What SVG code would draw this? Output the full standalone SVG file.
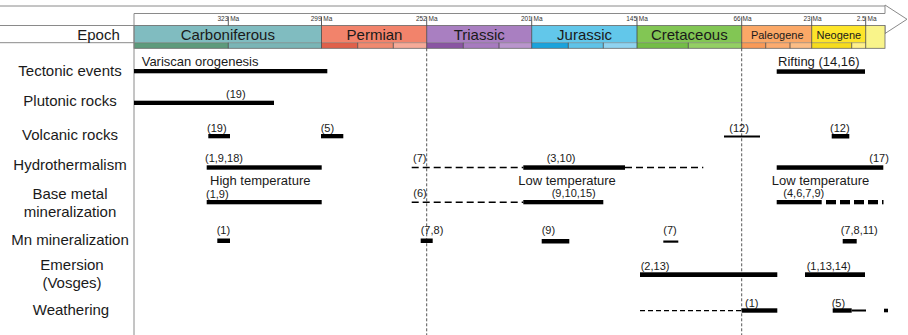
<svg xmlns="http://www.w3.org/2000/svg" width="908" height="335" viewBox="0 0 908 335">
<style>
text{font-family:"Liberation Sans",Arial,sans-serif;fill:#1a1a1a}
.lbl{font-size:15px;text-anchor:middle}
.ep{font-size:15px;text-anchor:middle}
.ep2{font-size:11px;text-anchor:middle}
.ma{font-size:6.5px;fill:#333}
.ref{font-size:11px}
.note{font-size:13px}
.bar{fill:#000}
.dash{stroke:#000;stroke-width:1.6;stroke-dasharray:7 4;fill:none}
.dashw{stroke:#000;stroke-width:1.3;stroke-dasharray:5 3;fill:none}
.vd{stroke:#444;stroke-width:0.9;stroke-dasharray:3 2;fill:none}
.grid{stroke:#8a8a8a;stroke-width:1;fill:none}
.tick{stroke:#333;stroke-width:0.8}
.div{stroke:#444;stroke-width:0.8}
</style>

<g id="header">
  <line class="grid" x1="0" y1="6" x2="885" y2="6"/>
  <line class="grid" x1="0" y1="25.5" x2="134" y2="25.5"/>
  <line class="grid" x1="0" y1="42.7" x2="134" y2="42.7"/>
  <path class="grid" d="M134,13.5 H885 V5 L907,19.25 L885,33.5 V25.5" stroke="#777"/>
  <text class="lbl" x="98.5" y="40">Epoch</text>
  <rect x="134" y="25.5" width="187.5" height="17.2" fill="#80bcc0"/>
  <rect x="321.5" y="25.5" width="105.2" height="17.2" fill="#f2836b"/>
  <rect x="426.7" y="25.5" width="105" height="17.2" fill="#a97fc1"/>
  <rect x="531.7" y="25.5" width="105.3" height="17.2" fill="#62c7ea"/>
  <rect x="637" y="25.5" width="104.7" height="17.2" fill="#82c654"/>
  <rect x="741.7" y="25.5" width="70" height="17.2" fill="#fba867"/>
  <rect x="811.7" y="25.5" width="54" height="17.2" fill="#fde52a"/>
  <rect x="865.7" y="25.5" width="19.3" height="22.8" fill="#f9f48a"/>
  <rect x="134" y="42.7" width="94.3" height="5.6" fill="#5d9b7c"/>
  <rect x="228.3" y="42.7" width="93.2" height="5.6" fill="#7ab5b6"/>
  <rect x="321.5" y="42.7" width="36.2" height="5.6" fill="#e0604a"/>
  <rect x="357.7" y="42.7" width="35.6" height="5.6" fill="#f08a70"/>
  <rect x="393.3" y="42.7" width="33.4" height="5.6" fill="#f6aa98"/>
  <rect x="426.7" y="42.7" width="36.6" height="5.6" fill="#8a55a3"/>
  <rect x="463.3" y="42.7" width="35.7" height="5.6" fill="#a77bbf"/>
  <rect x="499" y="42.7" width="32.7" height="5.6" fill="#b995cc"/>
  <rect x="531.7" y="42.7" width="36.6" height="5.6" fill="#1ba3dc"/>
  <rect x="568.3" y="42.7" width="35" height="5.6" fill="#5fc3e8"/>
  <rect x="603.3" y="42.7" width="33.7" height="5.6" fill="#8fd3f0"/>
  <rect x="637" y="42.7" width="51.3" height="5.6" fill="#74bd47"/>
  <rect x="688.3" y="42.7" width="53.4" height="5.6" fill="#93cf64"/>
  <rect x="741.7" y="42.7" width="24" height="5.6" fill="#f99a58"/>
  <rect x="765.7" y="42.7" width="24.3" height="5.6" fill="#fbab6f"/>
  <rect x="790" y="42.7" width="21.7" height="5.6" fill="#fcbd85"/>
  <rect x="811.7" y="42.7" width="40" height="5.6" fill="#f6dc1e"/>
  <rect x="851.7" y="42.7" width="14" height="5.6" fill="#fff08a"/>
  <rect x="134" y="25.5" width="751" height="22.8" fill="none" stroke="#666" stroke-width="0.8"/>
  <line x1="134" y1="42.7" x2="865.7" y2="42.7" stroke="#666" stroke-width="0.5"/>
  <g class="div">
    <line x1="321.5" y1="25.5" x2="321.5" y2="48.3"/>
    <line x1="426.7" y1="25.5" x2="426.7" y2="48.3"/>
    <line x1="531.7" y1="25.5" x2="531.7" y2="48.3"/>
    <line x1="637" y1="25.5" x2="637" y2="48.3"/>
    <line x1="741.7" y1="25.5" x2="741.7" y2="48.3"/>
    <line x1="811.7" y1="25.5" x2="811.7" y2="48.3"/>
    <line x1="865.7" y1="25.5" x2="865.7" y2="48.3"/>
    <line x1="228.3" y1="42.7" x2="228.3" y2="48.3"/>
    <line x1="357.7" y1="42.7" x2="357.7" y2="48.3"/>
    <line x1="393.3" y1="42.7" x2="393.3" y2="48.3"/>
    <line x1="463.3" y1="42.7" x2="463.3" y2="48.3"/>
    <line x1="499" y1="42.7" x2="499" y2="48.3"/>
    <line x1="568.3" y1="42.7" x2="568.3" y2="48.3"/>
    <line x1="603.3" y1="42.7" x2="603.3" y2="48.3"/>
    <line x1="688.3" y1="42.7" x2="688.3" y2="48.3"/>
    <line x1="765.7" y1="42.7" x2="765.7" y2="48.3"/>
    <line x1="790" y1="42.7" x2="790" y2="48.3"/>
    <line x1="851.7" y1="42.7" x2="851.7" y2="48.3"/>
  </g>
  <g class="tick">
    <line x1="228.3" y1="16.5" x2="228.3" y2="25.5"/>
    <line x1="321.5" y1="16.5" x2="321.5" y2="25.5"/>
    <line x1="426.7" y1="16.5" x2="426.7" y2="25.5"/>
    <line x1="531.7" y1="16.5" x2="531.7" y2="25.5"/>
    <line x1="637" y1="16.5" x2="637" y2="25.5"/>
    <line x1="741.7" y1="16.5" x2="741.7" y2="25.5"/>
    <line x1="811.7" y1="16.5" x2="811.7" y2="25.5"/>
    <line x1="865.7" y1="16.5" x2="865.7" y2="25.5"/>
  </g>
  <text class="ma" x="217.5" y="20.5">323 Ma</text>
  <text class="ma" x="310.7" y="20.5">299 Ma</text>
  <text class="ma" x="415.9" y="20.5">252 Ma</text>
  <text class="ma" x="520.9" y="20.5">201 Ma</text>
  <text class="ma" x="626.2" y="20.5">145 Ma</text>
  <text class="ma" x="733.5" y="20.5">66 Ma</text>
  <text class="ma" x="803.5" y="20.5">23 Ma</text>
  <text class="ma" x="856.7" y="20.5">2.5 Ma</text>
  <text class="ep" x="227.8" y="40">Carboniferous</text>
  <text class="ep" x="374.5" y="40">Permian</text>
  <text class="ep" x="479.2" y="40">Triassic</text>
  <text class="ep" x="584.6" y="40">Jurassic</text>
  <text class="ep" x="689.3" y="40">Cretaceous</text>
  <text class="ep2" x="777.2" y="39">Paleogene</text>
  <text class="ep2" x="838.9" y="39">Neogene</text>
</g>

<g id="guides">
  <line class="grid" x1="134" y1="13.5" x2="134" y2="335"/>
  <line class="vd" x1="426.7" y1="48.3" x2="426.7" y2="335"/>
  <line class="vd" x1="741.7" y1="48.3" x2="741.7" y2="335"/>
</g>

<g id="row-tectonic">
  <text class="lbl" x="70" y="75.5">Tectonic events</text>
  <text class="note" x="141.7" y="66">Variscan orogenesis</text>
  <rect class="bar" x="134" y="69" width="193.3" height="4.3"/>
  <text class="note" x="778" y="66">Rifting (14,16)</text>
  <rect class="bar" x="776.7" y="69.3" width="88.3" height="4.5"/>
</g>

<g id="row-plutonic">
  <text class="lbl" x="70" y="106">Plutonic rocks</text>
  <text class="ref" x="226" y="97.8">(19)</text>
  <rect class="bar" x="134" y="100.7" width="140" height="4.3"/>
</g>

<g id="row-volcanic">
  <text class="lbl" x="70" y="140">Volcanic rocks</text>
  <text class="ref" x="207" y="132">(19)</text>
  <rect class="bar" x="208.3" y="134" width="21.7" height="4.3"/>
  <text class="ref" x="320.7" y="132">(5)</text>
  <rect class="bar" x="321" y="134" width="22.3" height="4.3"/>
  <text class="ref" x="729.3" y="132">(12)</text>
  <rect class="bar" x="724" y="135.5" width="36" height="2"/>
  <text class="ref" x="830" y="132">(12)</text>
  <rect class="bar" x="831.7" y="134" width="17.6" height="4.5"/>
</g>

<g id="row-hydrothermalism">
  <text class="lbl" x="70" y="170">Hydrothermalism</text>
  <text class="ref" x="205" y="162">(1,9,18)</text>
  <rect class="bar" x="206.7" y="165.3" width="115" height="4.4"/>
  <text class="ref" x="413" y="162">(7)</text>
  <line class="dash" x1="411.7" y1="167.5" x2="523.3" y2="167.5"/>
  <text class="ref" x="546.7" y="162">(3,10)</text>
  <rect class="bar" x="523.3" y="165.3" width="101.7" height="4.5"/>
  <line class="dash" x1="625" y1="167.5" x2="703.3" y2="167.5"/>
  <text class="ref" x="869.3" y="162">(17)</text>
  <rect class="bar" x="776.7" y="165.3" width="106.6" height="4.5"/>
  <text class="note" x="210" y="185">High temperature</text>
  <text class="note" x="518.3" y="184.5">Low temperature</text>
  <text class="note" x="771.7" y="184.5">Low temperature</text>
</g>

<g id="row-base-metal">
  <text class="lbl" x="70" y="199">Base metal</text>
  <text class="lbl" x="70" y="216.5">mineralization</text>
  <text class="ref" x="206" y="197.5">(1,9)</text>
  <rect class="bar" x="206.7" y="200" width="115" height="4.3"/>
  <text class="ref" x="413.3" y="197">(6)</text>
  <line class="dash" x1="411.7" y1="202.2" x2="523.3" y2="202.2"/>
  <text class="ref" x="551.7" y="197">(9,10,15)</text>
  <rect class="bar" x="523.3" y="200" width="80" height="4.3"/>
  <text class="ref" x="783.3" y="197">(4,6,7,9)</text>
  <rect class="bar" x="776.7" y="200" width="45" height="4.3"/>
  <rect class="bar" x="826" y="200" width="10" height="4.3"/>
  <rect class="bar" x="840" y="200" width="10" height="4.3"/>
  <rect class="bar" x="854" y="200" width="10" height="4.3"/>
  <rect class="bar" x="868" y="200" width="10" height="4.3"/>
  <rect class="bar" x="882" y="200" width="1.5" height="4.3"/>
</g>

<g id="row-mn">
  <text class="lbl" x="70" y="244.5">Mn mineralization</text>
  <text class="ref" x="216.7" y="234">(1)</text>
  <rect class="bar" x="217.3" y="238.5" width="12.7" height="4.5"/>
  <text class="ref" x="420.7" y="234">(7,8)</text>
  <rect class="bar" x="420.7" y="238.5" width="12" height="4.5"/>
  <text class="ref" x="541.7" y="234">(9)</text>
  <rect class="bar" x="541.7" y="239" width="27.6" height="4.5"/>
  <text class="ref" x="663.3" y="234">(7)</text>
  <rect class="bar" x="663.3" y="240.5" width="15" height="2.2"/>
  <text class="ref" x="840.7" y="234">(7,8,11)</text>
  <rect class="bar" x="842.7" y="239" width="14" height="4.5"/>
</g>

<g id="row-emersion">
  <text class="lbl" x="72" y="270">Emersion</text>
  <text class="lbl" x="72" y="287.5">(Vosges)</text>
  <text class="ref" x="640.7" y="269.5">(2,13)</text>
  <rect class="bar" x="640" y="272.3" width="137.3" height="4.7"/>
  <text class="ref" x="806.7" y="269.5">(1,13,14)</text>
  <rect class="bar" x="805" y="272.3" width="60" height="4.7"/>
</g>

<g id="row-weathering">
  <text class="lbl" x="71" y="314.5">Weathering</text>
  <line class="dashw" x1="640" y1="310.6" x2="741.7" y2="310.6"/>
  <text class="ref" x="745" y="306.5">(1)</text>
  <rect class="bar" x="741.7" y="308.3" width="35.6" height="4.4"/>
  <text class="ref" x="831.7" y="306.5">(5)</text>
  <rect class="bar" x="832.7" y="308.3" width="19" height="4.4"/>
  <rect class="bar" x="851.7" y="309.5" width="14.3" height="2"/>
  <rect class="bar" x="884" y="308.7" width="4" height="3.6"/>
</g>
</svg>
